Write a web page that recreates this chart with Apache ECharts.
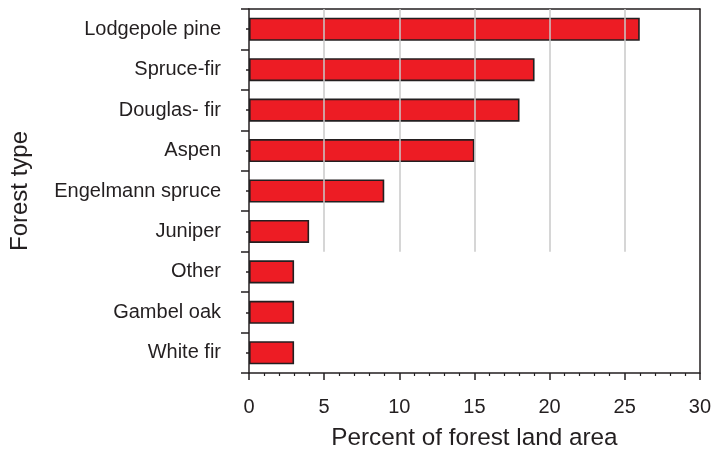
<!DOCTYPE html>
<html>
<head>
<meta charset="utf-8">
<script src="https://cdn.jsdelivr.net/npm/echarts@6/dist/echarts.min.js"></script>
<style>
html,body{margin:0;padding:0;background:#fff;}
#c{width:714px;height:455px;}
</style>
</head>
<body>
<div id="c"></div>
<script>
var categories = ['Lodgepole pine','Spruce-fir','Douglas- fir','Aspen','Engelmann spruce','Juniper','Other','Gambel oak','White fir'];
var values = [26, 19, 18, 15, 9, 4, 3, 3, 3];
var gridValues = [5, 10, 15, 20, 25];
var gridStopCategory = 'Juniper';

var textColor = '#231f20';
var font = 'Liberation Sans, Arial, sans-serif';
var nBelow = categories.length - (categories.indexOf(gridStopCategory) + 1);

var chart = echarts.init(document.getElementById('c'));
chart.setOption({
  animation: false,
  backgroundColor: '#fff',
  grid: {left: 245, right: 12, top: 9, bottom: 76, containLabel: false},
  xAxis: [{
    type: 'value', min: 0, max: 30, interval: 5, position: 'bottom',
    name: 'Percent of forest land area', nameLocation: 'middle', nameGap: 53,
    nameTextStyle: {fontSize: 24.3, color: textColor, fontFamily: font},
    axisLine: {show: true, lineStyle: {color: textColor, width: 1.5}},
    axisTick: {show: true, inside: false, length: 7, lineStyle: {color: textColor, width: 1.5}},
    minorTick: {show: true, splitNumber: 5, length: 3, lineStyle: {color: textColor, width: 1.2}},
    axisLabel: {fontSize: 20, color: textColor, fontFamily: font, margin: 24},
    splitLine: {show: false}
  }, {
    type: 'value', min: 0, max: 30, position: 'top',
    axisLine: {show: true, onZero: false, lineStyle: {color: textColor, width: 1.5}},
    axisTick: {show: false}, axisLabel: {show: false}, splitLine: {show: false}
  }],
  yAxis: [{
    type: 'category', data: categories, inverse: true, position: 'left',
    name: 'Forest type', nameLocation: 'middle', nameGap: 217, nameRotate: 90,
    nameTextStyle: {fontSize: 24, color: textColor, fontFamily: font},
    axisLine: {show: true, lineStyle: {color: textColor, width: 1.5}},
    axisTick: {show: true, inside: false, length: 8, alignWithLabel: false, lineStyle: {color: textColor, width: 1.5}},
    axisLabel: {fontSize: 20, color: textColor, fontFamily: font, margin: 28, padding: [5, 0, 0, 0]},
    splitLine: {show: false}
  }, {
    type: 'category', data: categories, inverse: true, position: 'left',
    axisLine: {show: false},
    axisTick: {show: true, inside: false, length: 3, alignWithLabel: true, lineStyle: {color: textColor, width: 1.5}},
    axisLabel: {show: false}, splitLine: {show: false}
  }, {
    type: 'category', data: categories, inverse: true, position: 'right',
    axisLine: {show: true, lineStyle: {color: textColor, width: 1.5}},
    axisTick: {show: false}, axisLabel: {show: false}, splitLine: {show: false}
  }, {
    type: 'value', min: 0, max: categories.length, show: false
  }],
  series: [{
    type: 'scatter', xAxisIndex: 0, yAxisIndex: 3, data: [], z: 1, silent: true,
    markLine: {
      silent: true, symbol: 'none', label: {show: false},
      lineStyle: {color: '#c8c8c8', width: 1.5, type: 'solid'},
      data: gridValues.map(function (v) {
        return [{coord: [v, nBelow]}, {coord: [v, categories.length]}];
      })
    }
  }, {
    type: 'bar', xAxisIndex: 0, yAxisIndex: 0, data: values, z: 3,
    barWidth: '57%',
    itemStyle: {color: '#ed1c24', borderColor: textColor, borderWidth: 1.6}
  }]
});
</script>
</body>
</html>
